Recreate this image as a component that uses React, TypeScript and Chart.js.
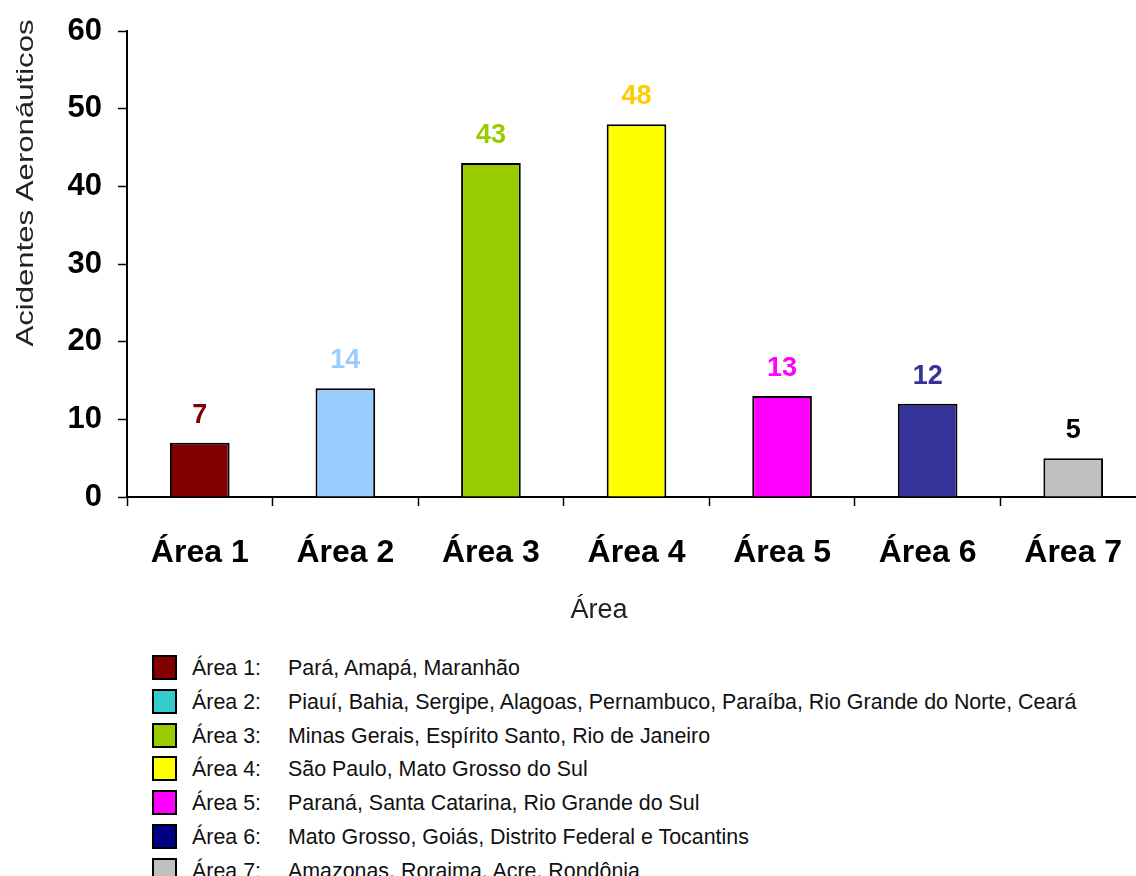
import React, { useEffect, useRef } from "react";
import { Chart, registerables } from "chart.js";

Chart.register(...registerables);

const categories = ["Área 1", "Área 2", "Área 3", "Área 4", "Área 5", "Área 6", "Área 7"];
const values = [7, 14, 43, 48, 13, 12, 5];
const barColors = ["#800000", "#99CCFF", "#99CC00", "#FFFF00", "#FF00FF", "#333399", "#C0C0C0"];
const valueLabelColors = ["#800000", "#99CCFF", "#99CC00", "#FFCC00", "#FF00FF", "#333399", "#000000"];
const yTitle = "Acidentes Aeronáuticos";
const xTitle = "Área";
const legendNames = ["Área 1:", "Área 2:", "Área 3:", "Área 4:", "Área 5:", "Área 6:", "Área 7:"];
const legendStates = [
  "Pará, Amapá, Maranhão",
  "Piauí, Bahia, Sergipe, Alagoas, Pernambuco, Paraíba, Rio Grande do Norte, Ceará",
  "Minas Gerais, Espírito Santo, Rio de Janeiro",
  "São Paulo, Mato Grosso do Sul",
  "Paraná, Santa Catarina, Rio Grande do Sul",
  "Mato Grosso, Goiás, Distrito Federal e Tocantins",
  "Amazonas, Roraima, Acre, Rondônia",
];
const legendColors = ["#800000", "#33CCCC", "#99CC00", "#FFFF00", "#FF00FF", "#000080", "#C0C0C0"];

const FONT = "'Liberation Sans', Arial, Helvetica, sans-serif";

const overlayPlugin = {
  id: "overlay",
  afterDatasetsDraw(chart: any) {
    const ctx = chart.ctx;
    const meta = chart.getDatasetMeta(0);
    ctx.save();
    ctx.font = `bold 27px ${FONT}`;
    ctx.textAlign = "center";
    ctx.textBaseline = "alphabetic";
    meta.data.forEach((el: any, i: number) => {
      ctx.fillStyle = valueLabelColors[i];
      ctx.fillText(String(values[i]), el.x, el.y - 20);
    });
    ctx.restore();
  },
  afterDraw(chart: any) {
    const ctx = chart.ctx;
    // Y title
    ctx.save();
    ctx.fillStyle = "#222222";
    ctx.font = `24px ${FONT}`;
    const w = ctx.measureText(yTitle).width;
    ctx.translate(33, 183);
    ctx.rotate(-Math.PI / 2);
    ctx.scale(327 / w, 1);
    ctx.textAlign = "center";
    ctx.textBaseline = "alphabetic";
    ctx.fillText(yTitle, 0, 0);
    ctx.restore();
    // X title
    ctx.save();
    ctx.fillStyle = "#222222";
    ctx.font = `27px ${FONT}`;
    ctx.textAlign = "center";
    ctx.textBaseline = "alphabetic";
    ctx.fillText(xTitle, 599, 618);
    ctx.restore();
  },
};

export default function App() {
  const canvasRef = useRef<HTMLCanvasElement | null>(null);

  useEffect(() => {
    if (!canvasRef.current) return;
    const chart = new Chart(canvasRef.current, {
      type: "bar",
      data: {
        labels: categories,
        datasets: [
          {
            data: values,
            backgroundColor: barColors,
            borderColor: "#000000",
            borderWidth: 2,
            barPercentage: 0.41,
            categoryPercentage: 1,
          },
        ],
      },
      options: {
        animation: false,
        responsive: true,
        maintainAspectRatio: false,
        layout: { padding: { top: 31, left: 0, right: 0, bottom: 0 } },
        plugins: {
          legend: { display: false },
          tooltip: { enabled: false },
        },
        scales: {
          x: {
            offset: true,
            grid: {
              offset: true,
              drawOnChartArea: false,
              tickLength: 9,
              tickColor: "#000000",
              tickWidth: 1.5,
            },
            border: { color: "#000000", width: 2 },
            ticks: {
              color: "#000000",
              font: { family: FONT, size: 32, weight: "bold" },
              padding: 28,
              maxRotation: 0,
            },
            afterFit: (scale: any) => {
              scale.height = 143;
              scale.paddingLeft = 0;
              scale.paddingRight = 0;
            },
          },
          y: {
            min: 0,
            max: 60,
            ticks: {
              stepSize: 10,
              color: "#000000",
              font: { family: FONT, size: 31, weight: "bold" },
              padding: 16,
            },
            grid: {
              drawOnChartArea: false,
              tickLength: 9,
              tickColor: "#000000",
              tickWidth: 1.5,
            },
            border: { color: "#000000", width: 2 },
            afterFit: (scale: any) => {
              scale.width = 127;
              scale.paddingTop = 0;
              scale.paddingBottom = 0;
            },
          },
        },
      },
      plugins: [overlayPlugin],
    });
    return () => chart.destroy();
  }, []);

  return (
    <div
      style={{
        position: "fixed",
        left: 0,
        top: 0,
        width: 1136,
        height: 876,
        overflow: "hidden",
        background: "#ffffff",
      }}
    >
      <div style={{ position: "absolute", left: 0, top: 0, width: 1146, height: 640 }}>
        <canvas ref={canvasRef} />
      </div>
      {legendNames.map((name, i) => (
        <div key={name} style={{ position: "absolute", left: 0, top: 655 + i * 33.8, width: 1136, height: 26 }}>
          <div
            style={{
              position: "absolute",
              left: 152,
              top: 0,
              width: 25,
              height: 25,
              boxSizing: "border-box",
              border: "2px solid #000000",
              background: legendColors[i],
            }}
          />
          <div
            style={{
              position: "absolute",
              left: 192,
              top: 0,
              fontFamily: FONT,
              fontSize: 21.4,
              lineHeight: "26px",
              color: "#111111",
              whiteSpace: "nowrap",
            }}
          >
            {name}
          </div>
          <div
            style={{
              position: "absolute",
              left: 288,
              top: 0,
              fontFamily: FONT,
              fontSize: 21.4,
              lineHeight: "26px",
              color: "#111111",
              whiteSpace: "nowrap",
            }}
          >
            {legendStates[i]}
          </div>
        </div>
      ))}
    </div>
  );
}
